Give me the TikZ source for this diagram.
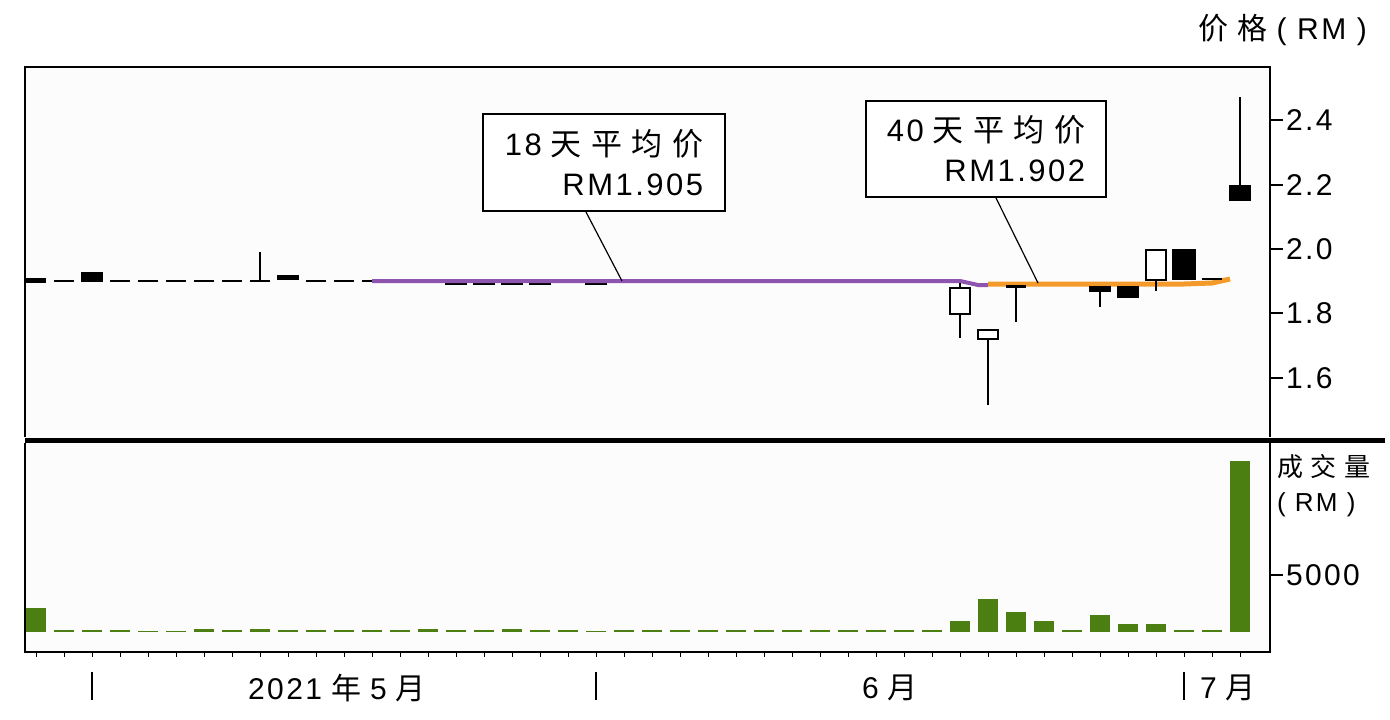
\documentclass[tikz,border=0pt]{standalone}
\usepackage{fontspec}
\setmainfont[LetterSpace=8]{Liberation Sans}
\newfontfamily\cjk[LetterSpace=8]{Noto Sans CJK SC}
\definecolor{avgpurple}{HTML}{8E55B0}
\definecolor{avgorange}{HTML}{F39A2A}
\definecolor{volgreen}{HTML}{4B7F12}
\tikzset{
  axislabel/.style={font=\fontsize{30}{32}\selectfont,inner sep=0pt},
  callout/.style={draw,line width=2pt,fill=white,align=right,font=\fontsize{31}{40}\selectfont,inner xsep=8pt,inner ysep=6pt},
  wick/.style={line width=1.5pt},
  doji/.style={line width=2pt},
}
\newcommand{\px}[1]{36+28*#1}
\newcommand{\gap}{\hspace{9pt}}
\begin{document}
\begin{tikzpicture}[x=1pt,y=-1pt,line width=2pt]
\useasboundingbox (0,0) rectangle (1390,720);
\fill[white!99!black] (25,67) rectangle (1270,652);
% price panel frame
\draw (25,437) -- (25,67) -- (1270,67) -- (1270,437);
\draw[line width=5pt] (25,440) -- (1385,440);
\draw (25,443) -- (25,652) -- (1270,652) -- (1270,443);
% right axis
\foreach \p/\y in {2.4/120,2.2/185,2.0/249,1.8/313,1.6/378}{
  \draw (1270,\y) -- (1283,\y);
  \node[axislabel,anchor=west] (tick\p) at (1285,\y) {\p};
}
\node[axislabel,anchor=east] (pricetitle) at (1368,30) {{\cjk 价 格}\gap( RM )};
% flat candles
\foreach \i in {1,3,4,5,6,7,8,10,11,12}
  \draw[doji] ({\px{\i}-10},281) -- ({\px{\i}+10},281);
\draw[wick] ({\px{8}},252) -- ({\px{8}},281);
\fill ({\px{0}-11},278) rectangle ({\px{0}+10},283);
\fill ({\px{2}-11},272) rectangle ({\px{2}+11},282);
\fill ({\px{9}-11},275) rectangle ({\px{9}+11},280);
\foreach \i in {15,16,17,18,20}
  \fill ({\px{\i}-11},282) rectangle ({\px{\i}+11},285);
% moving averages
\draw[avgpurple,line width=4pt] ({\px{12}},281) -- ({\px{33}},281) -- ({\px{33}+18},285) -- ({\px{34}},285);
\draw[avgorange,line width=5pt] ({\px{34}},284) -- ({\px{41}},284) -- ({\px{42}},283) -- ({\px{43}-10},279);
% candles of June and July
\draw[wick] ({\px{33}},283) -- ({\px{33}},338);
\draw[wick,fill=white] ({\px{33}-10},288) rectangle ({\px{33}+10},314);
\draw[wick] ({\px{34}},339) -- ({\px{34}},405);
\draw[wick,fill=white] ({\px{34}-10},330) rectangle ({\px{34}+10},339);
\draw[wick] ({\px{35}},286) -- ({\px{35}},322);
\fill ({\px{35}-10},285) rectangle ({\px{35}+10},288);
\draw[wick] ({\px{38}},290) -- ({\px{38}},307);
\fill ({\px{38}-11},286) rectangle ({\px{38}+11},292);
\fill ({\px{39}-11},286) rectangle ({\px{39}+11},298);
\draw[wick] ({\px{40}},280) -- ({\px{40}},291);
\draw[wick,fill=white] ({\px{40}-10},250) rectangle ({\px{40}+10},280);
\fill ({\px{41}-12},249) rectangle ({\px{41}+12},280);
\fill ({\px{42}-10},278) rectangle ({\px{42}+10},280);
\draw[wick] ({\px{43}},97) -- ({\px{43}},190);
\fill ({\px{43}-11},185) rectangle ({\px{43}+11},201);
% callouts
\node[callout,anchor=north west,minimum width=242pt,minimum height=97pt] (avg18) at (482,113) {18\gap{\cjk 天 平 均 价}\\RM1.905};
\node[callout,anchor=north west,minimum width=240pt,minimum height=96pt] (avg40) at (865,100) {40\gap{\cjk 天 平 均 价}\\RM1.902};
\coordinate (end18) at (622,281);
\coordinate (end40) at (1038,283);
\draw[line width=1.2pt] ([xshift=-18pt]avg18.south) -- (end18);
\draw[line width=1.2pt] ([xshift=10pt]avg40.south) -- (end40);
% volume
\foreach \i/\t in {0/608,1/630,2/630,3/630,4/631,5/631,6/629,7/630,8/629,9/630,10/630,11/630,12/630,13/630,14/629,15/630,16/630,17/629,18/630,19/630,20/631,21/630,22/630,23/630,24/630,25/630,26/630,27/630,28/630,29/630,30/630,31/630,32/630,33/621,34/599,35/612,36/621,37/630,38/615,39/624,40/624,41/630,42/630,43/461}
  \fill[volgreen] ({max(\px{\i}-10,26)},\t) rectangle ({\px{\i}+10},632);
\draw (1270,575) -- (1283,575);
\node[axislabel,anchor=west] (tick5000) at (1285,575) {5000};
\node[font=\cjk\fontsize{26}{30}\selectfont,anchor=west,inner sep=0pt] (voltitle) at (1276,467) {成 交 量};
\node[axislabel,anchor=west,font=\fontsize{26}{30}\selectfont] (volunit) at (1276,505) {( RM )};
% time axis
\foreach \i in {0,...,43}
  \draw[line width=1pt] ({\px{\i}},652) -- ({\px{\i}},657);
\foreach \x in {92,596,1184}
  \draw (\x,672) -- (\x,700);
\node[axislabel] (may) at (337,688) {2021\gap{\cjk 年}\gap 5\gap{\cjk 月}};
\node[axislabel] (june) at (890,688) {6\gap{\cjk 月}};
\node[axislabel] (july) at (1228,688) {7\gap{\cjk 月}};
\end{tikzpicture}
\end{document}
